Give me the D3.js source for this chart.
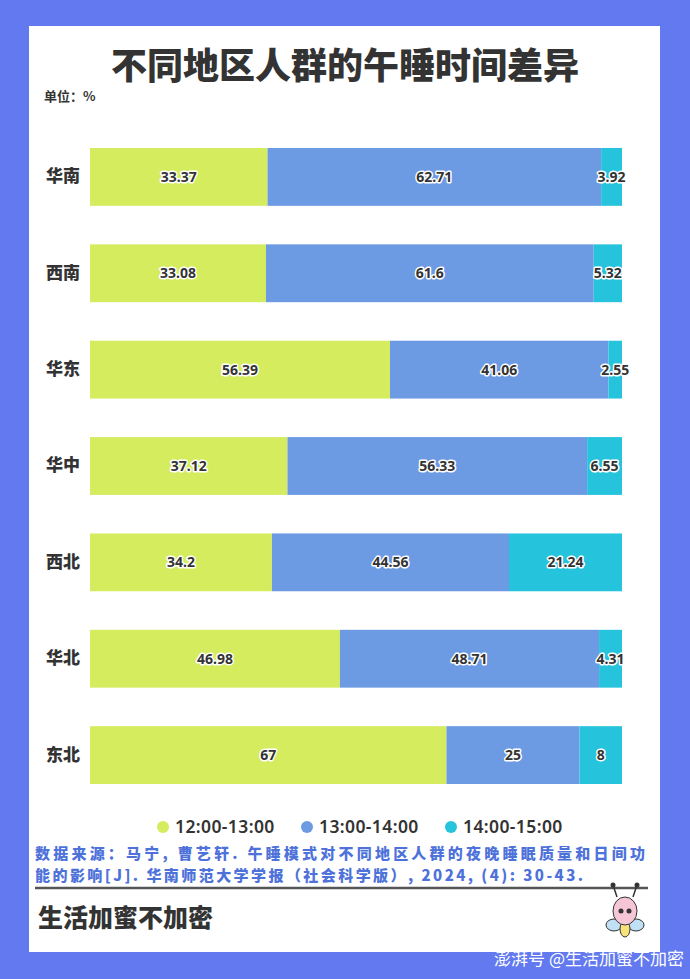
<!DOCTYPE html>
<html><head><meta charset="utf-8">
<script src="https://cdn.jsdelivr.net/npm/d3@7/dist/d3.min.js"></script>
<style>
html,body{margin:0;padding:0;background:#6279EF;}
svg{display:block;font-family:"Noto Sans CJK SC","Noto Sans",sans-serif;}
</style></head><body>
<script>
const categories = ["华南","西南","华东","华中","西北","华北","东北"];
const seriesNames = ["12:00-13:00","13:00-14:00","14:00-15:00"];
const s1 = [33.37,33.08,56.39,37.12,34.2,46.98,67];
const s2 = [62.71,61.6,41.06,56.33,44.56,48.71,25];
const s3 = [3.92,5.32,2.55,6.55,21.24,4.31,8];
const colors = ["#D5EC5E","#6C9AE3","#25C3DC"];

const W=690,H=979;
const svg=d3.select("body").append("svg").attr("width",W).attr("height",H);
svg.append("rect").attr("width",W).attr("height",H).attr("fill","#6279EF");
svg.append("rect").attr("x",29).attr("y",26).attr("width",631).attr("height",926).attr("fill","#fff");

svg.append("text").attr("x",345).attr("y",79).attr("text-anchor","middle")
  .attr("font-size",36).attr("font-weight",900).attr("fill","#333").text("不同地区人群的午睡时间差异");
svg.append("text").attr("x",44).attr("y",101).attr("font-size",13).attr("font-weight",700).attr("fill","#333").text("单位：%");

const data=categories.map((c,i)=>({cat:c,vals:[s1[i],s2[i],s3[i]]}));
const stack=d3.stack().keys([0,1,2]).value((d,k)=>d.vals[k]);
const stacked=stack(data);

const x=d3.scaleLinear().domain([0,100]).range([90,622]);
const y=d3.scaleBand().domain(categories).range([148,784]).paddingInner(0.4).paddingOuter(0);

const yAxis=svg.append("g").attr("transform","translate(90,0)")
  .call(d3.axisLeft(y).tickSize(0).tickPadding(10));
yAxis.select(".domain").remove();
yAxis.selectAll("text").attr("font-size",17).attr("font-weight",900).attr("fill","#333")
  .attr("font-family","'Noto Sans CJK SC',sans-serif");

stacked.forEach((layer,k)=>{
  const g=svg.append("g");
  g.selectAll("rect").data(layer).join("rect")
    .attr("x",d=>x(d[0])).attr("y",d=>y(d.data.cat))
    .attr("width",d=>x(d[1])-x(d[0])).attr("height",y.bandwidth())
    .attr("fill",colors[k]);
  g.selectAll("text").data(layer).join("text")
    .attr("x",d=>(x(d[0])+x(d[1]))/2).attr("y",d=>y(d.data.cat)+y.bandwidth()/2)
    .attr("dy","0.35em").attr("text-anchor","middle")
    .attr("font-size",14).attr("font-weight",700).attr("fill","#333")
    .attr("stroke","#fff").attr("stroke-width",3).attr("paint-order","stroke").attr("stroke-linejoin","round")
    .attr("font-family","'Noto Sans','Noto Sans CJK SC',sans-serif")
    .text(d=>d.data.vals[k]);
});

// legend
const legX=[163,307,451];
seriesNames.forEach((n,i)=>{
  svg.append("circle").attr("cx",legX[i]).attr("cy",827).attr("r",6).attr("fill",colors[i]);
  svg.append("text").attr("x",legX[i]+12).attr("y",833).attr("font-size",17.5).attr("font-weight",600)
    .attr("letter-spacing",0.4)
    .attr("fill","#333").attr("font-family","'Noto Sans',sans-serif").text(n);
});

// source
const srcColor="#4E72DA";
svg.append("text").attr("x",35).attr("y",859).attr("font-size",15).attr("font-weight",900).attr("fill",srcColor)
  .attr("textLength",610).attr("lengthAdjust","spacing")
  .text("数据来源：马宁, 曹艺轩. 午睡模式对不同地区人群的夜晚睡眠质量和日间功");
svg.append("text").attr("x",35).attr("y",881).attr("font-size",15).attr("font-weight",900).attr("fill",srcColor)
  .attr("textLength",548).attr("lengthAdjust","spacing")
  .text("能的影响[J]. 华南师范大学学报（社会科学版）, 2024, (4): 30-43.");
svg.append("line").attr("x1",35).attr("x2",648).attr("y1",888).attr("y2",888).attr("stroke","#555").attr("stroke-width",2.5);
svg.append("text").attr("x",38).attr("y",927).attr("font-size",25).attr("font-weight",900).attr("fill","#333").text("生活加蜜不加密");

// mascot (simple bee)
const m=svg.append("g").attr("transform","translate(625,915)");
m.append("line").attr("x1",-8).attr("y1",-18).attr("x2",-12).attr("y2",-30).attr("stroke","#333").attr("stroke-width",1.5);
m.append("line").attr("x1",8).attr("y1",-18).attr("x2",12).attr("y2",-30).attr("stroke","#333").attr("stroke-width",1.5);
m.append("circle").attr("cx",-12).attr("cy",-30).attr("r",2.5).attr("fill","#333");
m.append("circle").attr("cx",12).attr("cy",-30).attr("r",2.5).attr("fill","#333");
m.append("ellipse").attr("cx",-11).attr("cy",10).attr("rx",8).attr("ry",6).attr("fill","#BFE0F5").attr("stroke","#333");
m.append("ellipse").attr("cx",11).attr("cy",10).attr("rx",8).attr("ry",6).attr("fill","#BFE0F5").attr("stroke","#333");
m.append("ellipse").attr("cx",0).attr("cy",14).attr("rx",5).attr("ry",8).attr("fill","#F8E27A").attr("stroke","#333");
m.append("ellipse").attr("cx",0).attr("cy",-4).attr("rx",12).attr("ry",14).attr("fill","#F7C6D6").attr("stroke","#333");
m.append("circle").attr("cx",-4).attr("cy",-4).attr("r",2.5).attr("fill","#333");
m.append("circle").attr("cx",4).attr("cy",-4).attr("r",2.5).attr("fill","#333");

svg.append("text").attr("x",684).attr("y",965).attr("text-anchor","end").attr("font-size",17).attr("fill","#fff")
  .text("澎湃号 @生活加蜜不加密");
</script>
</body></html>
